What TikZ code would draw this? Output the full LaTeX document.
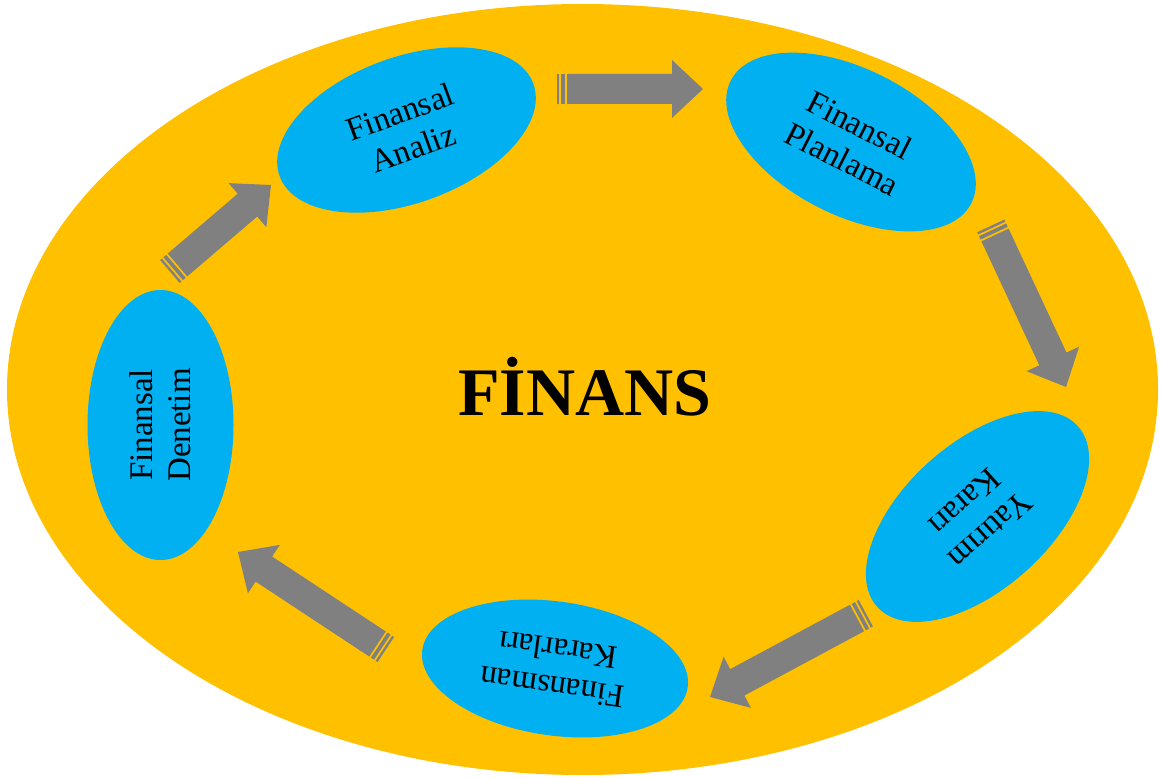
\documentclass[tikz,border=0pt]{standalone}
\usepackage{fontspec}
\setmainfont{Liberation Serif}
\usetikzlibrary{calc,shapes.geometric}

\definecolor{finorange}{HTML}{FFC000}
\definecolor{finblue}{HTML}{00B0F0}
\definecolor{arrowgray}{HTML}{808080}

\tikzset{
  stage/.style={ellipse, fill=finblue, draw=none, inner sep=0pt,
    minimum width=270pt, minimum height=146pt, align=center,
    font=\fontsize{33}{38}\selectfont},
  title/.style={font=\fontsize{68}{80}\selectfont\bfseries},
}

% Striped block arrow from a tail coordinate to a tip coordinate
\newcommand\blockarrow[2]{%
  \coordinate (neck) at ($(#2)!31pt!(#1)$);
  \fill[arrowgray]
    ($(#1)!15pt!90:(#2)$) -- ($(neck)!15pt!90:(#2)$) -- ($(neck)!29pt!90:(#2)$)
    -- (#2)
    -- ($(neck)!29pt!-90:(#2)$) -- ($(neck)!15pt!-90:(#2)$) -- ($(#1)!15pt!-90:(#2)$)
    -- cycle;
  \coordinate (bandA) at ($(#1)!-3.85pt!(#2)$);
  \coordinate (bandB) at ($(#1)!-8.85pt!(#2)$);
  \draw[arrowgray, line width=3.7pt] ($(bandA)!15pt!90:(#2)$) -- ($(bandA)!15pt!-90:(#2)$);
  \draw[arrowgray, line width=2.3pt] ($(bandB)!15pt!90:(#2)$) -- ($(bandB)!15pt!-90:(#2)$);
}

\begin{document}
\begin{tikzpicture}[x=1pt, y=-1pt]
  \useasboundingbox (0,0) rectangle (1161,778);
  \fill[white] (0,0) rectangle (1161,778);

  % outer field
  \fill[finorange] (582.5,389.5) ellipse [x radius=575.5pt, y radius=385.5pt];

  % stages of the cycle
  \node[stage, rotate=20]  (analiz)    at (406.5,130) {Finansal\\Analiz};
  \node[stage, rotate=-27] (planlama)  at (851,142)   {Finansal\\Planlama};
  \node[stage, rotate=222] (yatirim)   at (977.5,516.5) {Yatırım\\Kararı};
  \node[stage, rotate=172, minimum width=268pt, minimum height=134pt]
       (finansman) at (555,668.5) {Finansman\\Kararları};
  \node[stage, rotate=90]  (denetim)   at (160.5,425) {Finansal\\Denetim};

  % centre title
  \node[title, anchor=base] (finans) at (585,415) {FİNANS};

  % arrow ends
  \coordinate (t1) at (567,89);    \coordinate (h1) at (703,89);
  \coordinate (t2) at (995,235);   \coordinate (h2) at (1066,387);
  \coordinate (t3) at (857,618);   \coordinate (h3) at (710,697);
  \coordinate (t4) at (377.5,644); \coordinate (h4) at (238,552);
  \coordinate (t5) at (177.5,265); \coordinate (h5) at (271,185);

  \blockarrow{t1}{h1}
  \blockarrow{t2}{h2}
  \blockarrow{t3}{h3}
  \blockarrow{t4}{h4}
  \blockarrow{t5}{h5}
\end{tikzpicture}
\end{document}
